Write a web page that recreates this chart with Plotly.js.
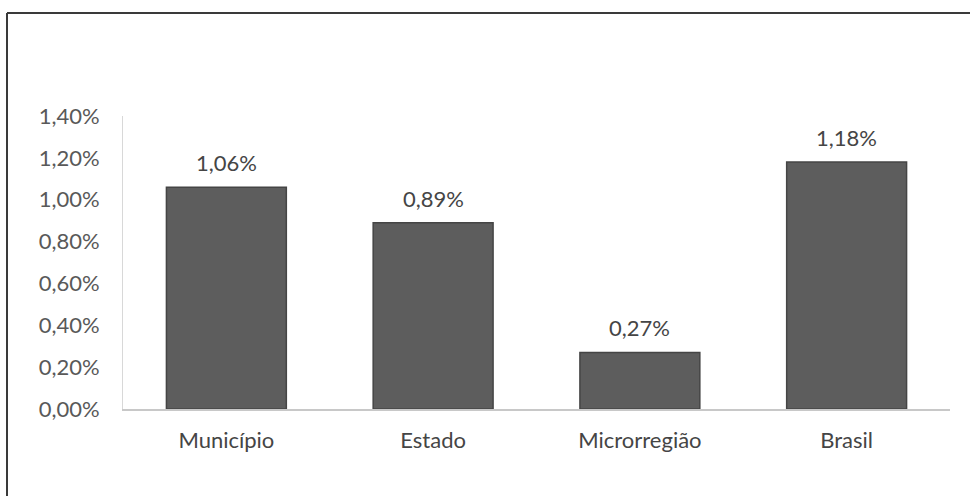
<!DOCTYPE html>
<html>
<head>
<meta charset="utf-8">
<script src="https://cdn.plot.ly/plotly-3.0.1.min.js"></script>
<style>
html,body{margin:0;padding:0;background:#fff;}
#chart{width:970px;height:496px;}
</style>
</head>
<body>
<div id="chart"></div>
<script>
const categories = ["Município", "Estado", "Microrregião", "Brasil"];
const values = [0.0106, 0.0089, 0.0027, 0.0118];
const yTicks = [0, 0.002, 0.004, 0.006, 0.008, 0.010, 0.012, 0.014];

const fontFam = "Lato, 'Open Sans', sans-serif";

const trace = {
  type: "bar",
  x: categories,
  y: values,
  marker: {color: "#5d5d5d", line: {color: "#454545", width: 1.5}},
  hoverinfo: "skip"
};

const annotations = categories.map((c, i) => ({
  x: c, y: values[i], xref: "x", yref: "y",
  text: (values[i] * 100).toFixed(2).replace(".", ",") + "%",
  showarrow: false, yanchor: "bottom", yshift: 9,
  font: {family: fontFam, size: 22, color: "#454545"}
}));

const layout = {
  width: 970, height: 496,
  margin: {l: 123, r: 20, t: 116, b: 87},
  paper_bgcolor: "#fff", plot_bgcolor: "#fff",
  separators: ",.",
  showlegend: false,
  bargap: 0.42,
  font: {family: fontFam, size: 22, color: "#595959"},
  xaxis: {
    showgrid: false, zeroline: false,
    showline: true, linecolor: "#c8c8c8", linewidth: 2,
    ticks: "outside", ticklen: 11, tickcolor: "rgba(0,0,0,0)",
    tickfont: {family: fontFam, size: 22, color: "#454545"}
  },
  yaxis: {
    range: [0, 0.014],
    tickvals: yTicks,
    tickformat: ".2%",
    showgrid: false, zeroline: false,
    showline: true, linecolor: "#d8d8d8", linewidth: 1,
    ticks: "outside", ticklen: 18, tickcolor: "rgba(0,0,0,0)",
    tickfont: {family: fontFam, size: 22, color: "#595959"}
  },
  annotations: annotations,
  shapes: [
    {type: "line", xref: "paper", yref: "paper", x0: -116/827, x1: 850/827, y0: 1 + 103/293, y1: 1 + 103/293, line: {color: "#3a3a3a", width: 2}},
    {type: "line", xref: "paper", yref: "paper", x0: -116/827, x1: -116/827, y0: 1 + 103/293, y1: -90/293, line: {color: "#3a3a3a", width: 2}}
  ]
};

Plotly.newPlot("chart", [trace], layout, {displayModeBar: false, staticPlot: true});
</script>
</body>
</html>
